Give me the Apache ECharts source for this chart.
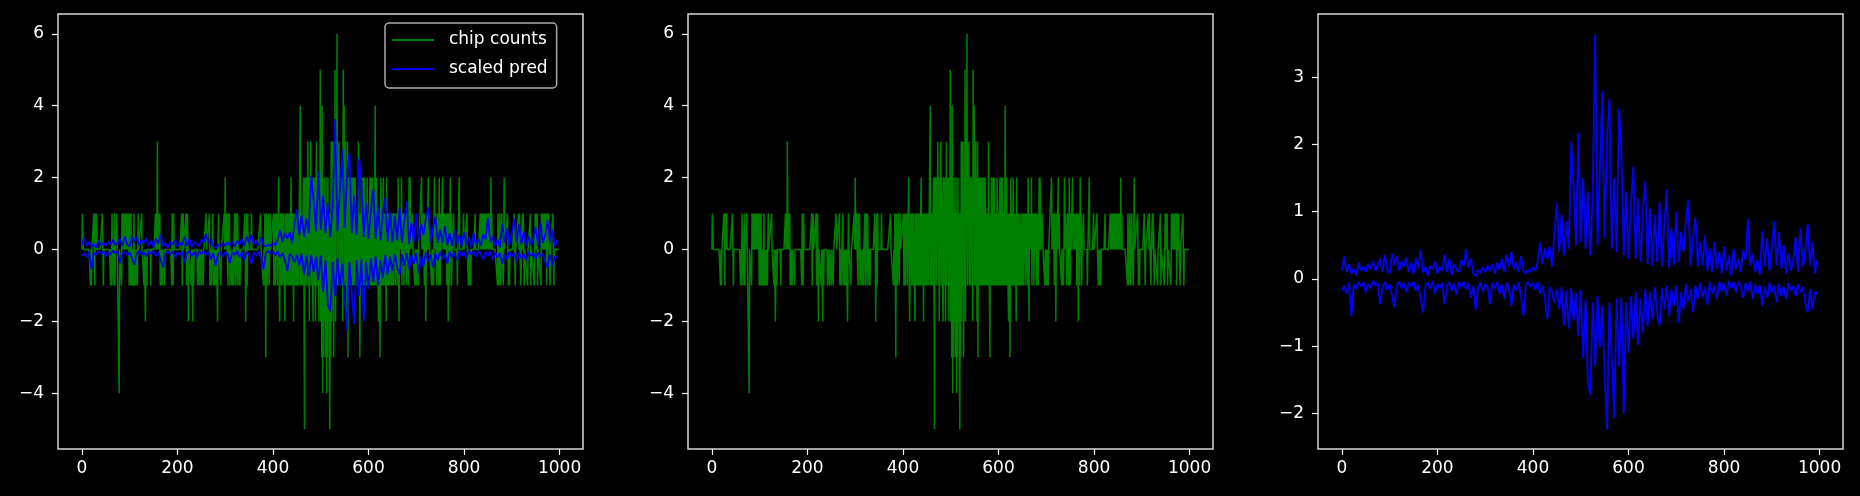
<!DOCTYPE html>
<html>
<head>
<meta charset="utf-8">
<script src="https://cdn.jsdelivr.net/npm/echarts@6/dist/echarts.min.js"></script>
<style>
  html, body { margin: 0; padding: 0; background: #000; }
  #chart { width: 1860px; height: 496px; }
</style>
</head>
<body>
<div id="chart"></div>
<script>
const xTicks = [0, 200, 400, 600, 800, 1000];
const countTicks = [-4, -2, 0, 2, 4, 6];
const predTicks = [-2, -1, 0, 1, 2, 3];

// chip counts are zero except at these positions: [position, count]
const chipSpikes = [
  [1,1],[2,1],[18,-1],[20,-1],[25,1],[27,-1],[28,1],[31,1],[43,1],[45,-1],[60,-1],[62,-1],[63,1],[66,-1],[68,1],[69,-1],
  [73,1],[78,-4],[83,-1],[84,1],[86,1],[88,1],[90,1],[92,1],[94,1],[96,1],[98,1],[99,-1],[100,1],[101,-1],[103,1],[104,-1],
  [107,-1],[109,1],[110,-1],[113,-1],[116,-1],[118,1],[125,1],[130,-1],[133,-2],[136,-1],[144,-1],[154,1],[156,1],[158,3],
  [160,1],[163,1],[164,-1],[166,-1],[168,-1],[173,-1],[188,-1],[189,1],[191,-1],[192,1],[209,1],[210,-1],[212,1],[218,1],
  [219,-1],[221,1],[223,-2],[229,-1],[232,-2],[234,-1],[242,-1],[246,-1],[250,-1],[254,-1],[260,1],[267,1],[268,-1],[271,-1],
  [274,1],[275,-1],[278,-1],[281,-1],[284,-2],[286,1],[291,-1],[298,1],[300,2],[303,1],[306,-1],[307,1],[309,1],[310,-1],
  [314,-1],[317,-1],[320,1],[321,-1],[323,1],[325,-1],[326,1],[329,-1],[331,-1],[341,1],[343,-2],[345,1],[346,-1],[347,1],
  [355,1],[374,1],[380,-1],[382,-1],[383,1],[385,-3],[386,1],[388,-1],[390,1],[392,-1],[394,1],
  [401,1],[402,-1],[403,1],[405,-1],[406,1],[408,1],[409,-1],[411,1],[412,2],[413,-1],[414,-2],[416,1],[418,-1],[419,1],
  [421,-1],[422,1],[424,-1],[425,-2],[426,1],[428,-1],[429,1],[431,-1],[432,1],[433,1],[434,-1],[435,1],[436,-1],[437,1],
  [438,2],[439,-1],[440,1],[441,-1],[442,1],[443,-2],[444,1],[445,-1],[446,1],[447,1],[448,-1],[449,1],[450,-1],[451,1],
  [452,-1],[453,1],[454,-1],[455,1],[456,1],[457,4],[458,-1],[459,1],[460,-1],[461,1],[462,-1],[463,1],[464,2],[465,-1],
  [466,-5],[467,2],[468,1],[469,2],[470,-1],[471,2],[472,1],[473,3],[474,-1],[475,2],[476,-2],[477,1],[478,2],[479,3],
  [480,-1],[481,2],[482,1],[483,-1],[484,-2],[485,2],[486,1],[487,-1],[488,2],[489,-2],[490,1],[491,3],[492,-1],[493,2],
  [494,1],[495,2],[496,-2],[497,2],[498,-1],[499,5],[500,-2],[501,2],[502,-3],[503,4],[504,-4],[505,1],[506,-3],[507,2],
  [508,-2],[509,1],[510,-3],[511,2],[512,-4],[513,1],[514,-3],[515,2],[516,-2],[517,1],[518,-3],[519,-5],[520,1],[521,-3],
  [522,3],[523,-2],[524,3],[525,-1],[526,3],[527,-3],[528,2],[529,-1],[530,5],[531,-2],[532,3],[533,1],[534,6],[535,-1],
  [536,2],[537,1],[538,3],[539,-1],[540,2],[541,1],[542,-1],[543,2],[544,1],[545,2],[546,-2],[547,5],[548,1],[549,4],
  [550,-1],[551,2],[552,3],[553,-1],[554,2],[555,-2],[556,3],[557,-3],[558,2],[559,-1],[560,1],[561,2],[562,-1],[563,2],
  [564,1],[565,-1],[566,2],[567,1],[568,-1],[569,2],[570,1],[571,-1],[572,2],[573,1],[574,-1],[575,1],[576,-1],[577,1],
  [578,-1],[579,3],[580,1],[581,-1],[582,-3],[583,1],[584,-1],[585,2],[586,1],[587,-1],[588,2],[589,-1],[590,1],[591,2],
  [592,-1],[593,1],[594,-1],[595,1],[596,-1],[597,2],[598,1],[599,-1],[600,1],[601,-1],[602,1],[603,2],[604,-1],[605,2],
  [606,1],[607,-1],[608,2],[609,1],[610,-1],[611,1],[612,-1],[613,1],[614,4],[615,-1],[616,1],[617,2],[618,-1],[619,1],
  [620,-1],[621,-2],[622,1],[623,-1],[624,-3],[625,1],[626,2],[627,-1],[628,1],[629,-1],[630,1],[631,2],[632,-1],[633,1],
  [634,-1],[635,1],[637,-2],[638,2],[639,-1],[640,1],[641,-1],[642,1],[644,-1],[645,1],[646,1],[647,-1],[649,1],[650,-1],
  [651,1],[653,-1],[654,1],[656,1],[657,-1],[659,1],[661,-1],[662,2],[664,-2],[665,1],[667,1],[669,2],[670,-1],[671,1],
  [673,1],[674,-1],[676,1],[678,1],[679,-1],[681,1],[683,-1],[685,2],[687,2],[688,1],[692,1],[697,-1],[700,-1],
  [702,-1],[704,-1],[711,2],[713,1],[715,1],[717,-1],[718,1],[720,-2],[722,1],[725,2],[727,1],[732,-1],[734,-1],[736,-1],
  [738,2],[741,1],[743,-1],[745,1],[747,-1],[748,2],[750,-1],[751,1],[755,2],[757,1],[759,1],[761,1],[763,1],[764,-1],
  [766,1],[767,-2],[769,1],[770,-1],[771,2],[773,1],[774,-1],[778,1],[786,-1],[790,2],[799,1],[806,1],[809,-1],[812,-1],
  [814,-1],[823,1],[834,1],[836,1],[838,1],[840,1],[842,1],[844,1],[846,1],[848,1],[850,1],[852,1],[854,1],[856,2],
  [858,1],[870,-1],[871,1],[873,-1],[875,1],[877,-1],[879,1],[882,-1],[884,2],[891,1],[893,-1],[895,-1],[905,1],[907,-1],
  [914,1],[916,1],[919,-1],[922,1],[924,1],[926,-1],[933,-1],[939,1],[940,-1],[947,-1],[949,1],[951,1],[953,1],[954,-1],
  [961,-1],[962,1],[964,1],[966,1],[968,1],[970,1],[972,1],[973,-1],[975,1],[977,1],[980,-1],[986,1],[988,-1]
];
const chipLength = 1000;

// scaled predictions, one value every 5 positions
const predStep = 5;
const predUpper = [
  0.12, 0.34, 0.10, 0.22, 0.08, 0.15, 0.05, 0.24, 0.12, 0.18,
  0.10, 0.22, 0.14, 0.27, 0.12, 0.20, 0.30, 0.10, 0.36, 0.14,
  0.08, 0.38, 0.20, 0.34, 0.12, 0.26, 0.18, 0.32, 0.10, 0.24,
  0.07, 0.30, 0.16, 0.43, 0.09, 0.18, 0.05, 0.20, 0.14, 0.26,
  0.08, 0.18, 0.12, 0.36, 0.10, 0.30, 0.06, 0.22, 0.14, 0.10,
  0.28, 0.20, 0.44, 0.16, 0.30, 0.08, 0.04, 0.14, 0.08, 0.18,
  0.10, 0.20, 0.12, 0.22, 0.08, 0.24, 0.14, 0.30, 0.10, 0.36,
  0.18, 0.40, 0.14, 0.26, 0.10, 0.34, 0.12, 0.08, 0.14, 0.10,
  0.18, 0.12, 0.26, 0.54, 0.22, 0.46, 0.30, 0.48, 0.18, 0.70,
  1.12, 0.40, 0.96, 0.35, 0.86, 0.45, 2.04, 1.40, 0.50, 2.17,
  0.55, 1.50, 0.45, 1.30, 0.35, 1.20, 3.63, 0.50, 1.60, 2.79,
  0.60, 2.09, 2.68, 0.45, 1.50, 0.40, 2.53, 1.92, 0.35, 1.30,
  0.30, 1.10, 1.67, 0.30, 1.20, 0.25, 1.00, 1.45, 0.22, 1.05,
  0.20, 0.95, 0.25, 1.15, 0.18, 0.80, 1.33, 0.15, 0.75, 0.20,
  1.00, 0.25, 0.70, 0.40, 0.85, 1.18, 0.20, 0.60, 0.91, 0.18,
  0.55, 0.20, 0.65, 0.12, 0.45, 0.10, 0.55, 0.15, 0.40, 0.08,
  0.48, 0.12, 0.35, 0.05, 0.45, 0.14, 0.30, 0.10, 0.42, 0.28,
  0.89, 0.20, 0.36, 0.10, 0.28, 0.06, 0.72, 0.18, 0.60, 0.12,
  0.45, 0.86, 0.20, 0.70, 0.15, 0.50, 0.08, 0.38, 0.12, 0.30,
  0.62, 0.10, 0.75, 0.18, 0.40, 0.82, 0.20, 0.55, 0.08, 0.28
];
const predLower = [
  -0.18, -0.10, -0.22, -0.06, -0.55, -0.08, -0.15, -0.04, -0.12, -0.05,
  -0.20, -0.07, -0.14, -0.03, -0.10, -0.06, -0.38, -0.12, -0.05, -0.16,
  -0.08, -0.25, -0.42, -0.10, -0.04, -0.14, -0.06, -0.20, -0.05, -0.12,
  -0.04, -0.18, -0.08, -0.30, -0.50, -0.10, -0.05, -0.15, -0.04, -0.22,
  -0.08, -0.14, -0.06, -0.38, -0.10, -0.05, -0.18, -0.07, -0.24, -0.05,
  -0.12, -0.04, -0.16, -0.06, -0.28, -0.10, -0.46, -0.14, -0.05, -0.20,
  -0.08, -0.12, -0.38, -0.06, -0.15, -0.04, -0.22, -0.08, -0.30, -0.06,
  -0.14, -0.40, -0.08, -0.18, -0.05, -0.26, -0.55, -0.10, -0.04, -0.12,
  -0.06, -0.16, -0.05, -0.22, -0.10, -0.30, -0.60, -0.12, -0.20, -0.36,
  -0.15, -0.45, -0.12, -0.70, -0.18, -0.74, -0.14, -0.62, -0.20, -0.85,
  -0.16, -1.18, -0.30, -1.55, -1.72, -0.35, -1.30, -0.25, -1.02, -0.40,
  -1.40, -2.24, -0.35, -1.20, -2.07, -0.30, -1.30, -0.28, -2.00, -0.35,
  -1.10, -0.25, -0.90, -0.20, -0.99, -0.30, -0.80, -0.15, -0.70, -0.20,
  -0.60, -0.12, -0.50, -0.69, -0.14, -0.45, -0.10, -0.55, -0.15, -0.40,
  -0.10, -0.66, -0.20, -0.45, -0.08, -0.35, -0.15, -0.50, -0.10, -0.30,
  -0.06, -0.28, -0.12, -0.39, -0.05, -0.22, -0.10, -0.30, -0.04, -0.18,
  -0.06, -0.25, -0.03, -0.14, -0.05, -0.20, -0.04, -0.12, -0.28, -0.06,
  -0.18, -0.04, -0.30, -0.08, -0.22, -0.10, -0.40, -0.12, -0.28, -0.06,
  -0.20, -0.10, -0.35, -0.08, -0.25, -0.12, -0.30, -0.06, -0.18, -0.10,
  -0.26, -0.08, -0.20, -0.12, -0.35, -0.50, -0.15, -0.45, -0.20, -0.22
];

const counts = new Array(chipLength).fill(0);
chipSpikes.forEach(function (s) { counts[s[0]] = s[1]; });
const chipData = counts.map(function (v, i) { return [i, v]; });
const upperData = predUpper.map(function (v, i) { return [i * predStep, v]; });
const lowerData = predLower.map(function (v, i) { return [i * predStep, v]; });

const green = '#008000';
const blue = '#0000ff';
const fg = '#ffffff';
const font = 'DejaVu Sans';
const panelLefts = [58, 688, 1318];

function tickText(v) {
  return v < 0 ? '\u2212' + Math.abs(v) : String(v);
}

function makeX(i) {
  return {
    type: 'value', gridIndex: i, min: -50, max: 1049,
    axisLine: {show: false, onZero: false},
    splitLine: {show: false},
    axisTick: {show: true, length: 6, lineStyle: {color: fg, width: 1.2}, customValues: xTicks},
    axisLabel: {color: fg, fontSize: 17, fontFamily: font, margin: 11, customValues: xTicks, formatter: tickText}
  };
}

function makeY(i, min, max, ticks) {
  return {
    type: 'value', gridIndex: i, min: min, max: max,
    axisLine: {show: false, onZero: false},
    splitLine: {show: false},
    axisTick: {show: true, length: 6, lineStyle: {color: fg, width: 1.2}, customValues: ticks},
    axisLabel: {color: fg, fontSize: 17, fontFamily: font, margin: 14, customValues: ticks, formatter: tickText}
  };
}

function lineSeries(name, data, color, xi, width) {
  return {
    name: name, type: 'line', xAxisIndex: xi, yAxisIndex: xi, data: data,
    symbol: 'none', showSymbol: false, silent: true,
    lineStyle: {color: color, width: width},
    itemStyle: {color: color}
  };
}

let chart = echarts.init(document.getElementById('chart'));

chart.setOption({
  animation: false,
  backgroundColor: '#000',
  grid: panelLefts.map(function (l) {
    return {left: l, top: 14, width: 525, height: 435, show: true,
      borderColor: '#d8d8d8', borderWidth: 1.5, backgroundColor: 'transparent'};
  }),
  xAxis: [makeX(0), makeX(1), makeX(2)],
  yAxis: [
    makeY(0, -5.55, 6.55, countTicks),
    makeY(1, -5.55, 6.55, countTicks),
    makeY(2, -2.53, 3.94, predTicks)
  ],
  legend: {
    data: ['chip counts', 'scaled pred'],
    orient: 'vertical',
    left: 385, top: 23,
    icon: 'rect', itemWidth: 42, itemHeight: 2, itemGap: 9,
    padding: [7, 9, 9, 7],
    borderColor: '#aaaaaa', borderWidth: 1.5, borderRadius: 4,
    backgroundColor: '#000',
    selectedMode: false,
    textStyle: {color: fg, fontSize: 17, fontFamily: font, lineHeight: 20, padding: [0, 0, 0, 10]}
  },
  series: [
    lineSeries('chip counts', chipData, green, 0, 1.5),
    lineSeries('scaled pred', upperData, blue, 0, 1.8),
    lineSeries('scaled pred', lowerData, blue, 0, 1.8),
    lineSeries('chip counts', chipData, green, 1, 1.5),
    lineSeries('scaled pred', upperData, blue, 2, 1.8),
    lineSeries('scaled pred', lowerData, blue, 2, 1.8)
  ]
});
</script>
</body>
</html>
